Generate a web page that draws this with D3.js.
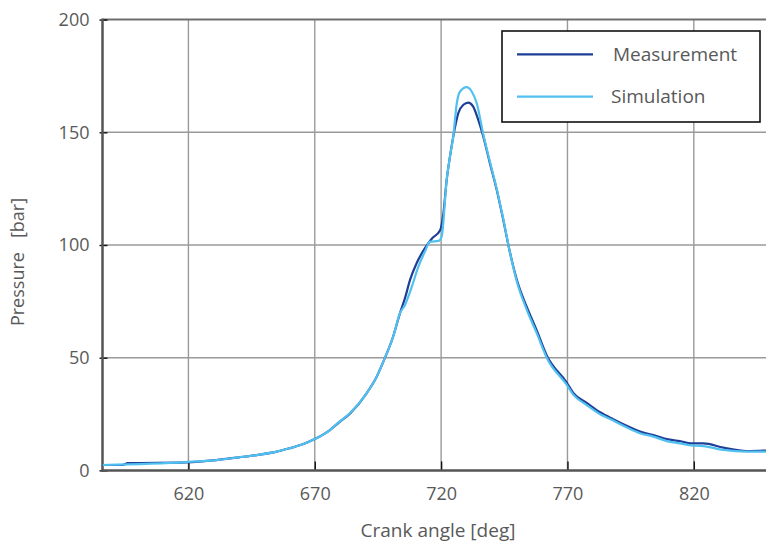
<!DOCTYPE html>
<html><head><meta charset="utf-8">
<script src="https://cdn.jsdelivr.net/npm/d3@7"></script>
<style>
html,body{margin:0;padding:0;background:#fff;}
svg{display:block;font-family:"Open Sans",sans-serif;}
</style></head>
<body>
<script>
const xTicks = [620, 670, 720, 770, 820];
const yTicks = [0, 50, 100, 150, 200];
const seriesNames = ["Measurement", "Simulation"];

const measAngle = [586,594,596,619,631,640,647,655,660,665.5,670,676,679.5,684,690.5,694.5,697.8,701,703.7,705.7,707.7,710.3,713.6,716.3,719.6,720.9,722.2,723.5,724.8,726.8,728.8,730.8,732.7,734.7,736.7,739.3,742,744.6,747.3,749.9,753.9,757.8,761.8,769.7,772.3,777.6,782.9,788.1,793.4,798.7,804,809.3,814.5,818.9,823.8,831.7,840.9,850];
const measPressure = [2.4,2.4,3.2,3.6,4.6,5.8,6.8,8.3,9.8,11.7,13.9,17.9,21.2,25.3,34.2,41.6,50,59.3,69.7,76.4,84.5,91.9,98.6,102.8,106.5,114,128.9,139.2,148.1,158.5,162.2,163.2,161.4,155.5,148.1,136.3,124.5,111.1,96.4,84.8,72.5,62.2,51,39,34.4,30,25.8,22.7,19.8,17.2,15.7,13.9,13,12,12,10.1,8.6,8.9];

const simAngle = [586,619,631,640,647,655,660,665.5,670,676,679.5,684,690.5,694.5,697.8,701,703.7,705.7,708.4,711,713.6,715.6,719,720.2,722.2,723.5,724.8,726.2,727.5,730.1,732.1,734.1,736.7,739.3,742,744.6,747.3,749.9,753.9,757.8,761.8,769.7,772.3,777.6,782.9,788.1,793.4,798.7,804,809.3,814.5,818.9,823.8,831.7,840.9,850];
const simPressure = [2.4,3.7,4.6,5.8,6.8,8.3,9.8,11.7,13.9,17.9,21.4,25.5,34.2,41.6,50,59.3,69.7,73.4,81.5,90.4,97.1,101.5,101.8,103.7,128.9,139.2,148.1,162.9,168.1,170,168.1,162.9,149,137,125,111.5,96.4,84,71.2,61,50,38,33.6,29,24.9,22.1,19.1,16.5,15,13,12,11.1,10.8,9.1,8.3,8.3];

const W = 766, H = 543;
const L = 102.5, T = 19.6, B = 470.4;
const x = d3.scaleLinear().domain([586, 850]).range([L, L + 264 * 2.527]);
const y = d3.scaleLinear().domain([0, 200]).range([B, T]);

const svg = d3.select("body").append("svg").attr("width", W).attr("height", H);

svg.append("clipPath").attr("id", "clip").append("rect")
  .attr("x", L).attr("y", T).attr("width", W - L).attr("height", B - T);

// grid
const grid = svg.append("g");
grid.selectAll(".vx").data(xTicks).enter().append("line")
  .attr("x1", d => x(d)).attr("x2", d => x(d)).attr("y1", T).attr("y2", B)
  .attr("stroke", "#9a9a9a").attr("stroke-width", 1.4);
grid.selectAll(".hy").data(yTicks.filter(d => d > 0 && d < 200)).enter().append("line")
  .attr("x1", L).attr("x2", W).attr("y1", d => y(d)).attr("y2", d => y(d))
  .attr("stroke", "#9a9a9a").attr("stroke-width", 1.4);
// top frame
svg.append("line").attr("x1", L).attr("x2", W).attr("y1", T).attr("y2", T)
  .attr("stroke", "#6e6e6e").attr("stroke-width", 2);

// axes
const xAxis = d3.axisBottom(x).tickValues(xTicks).tickSizeInner(-9).tickSizeOuter(0).tickPadding(17);
const gx = svg.append("g").attr("transform", `translate(0,${B})`).call(xAxis);
gx.select(".domain").remove();
gx.selectAll(".tick line").attr("stroke", "#111").attr("stroke-width", 1.4);
gx.selectAll(".tick text").attr("fill", "#595959").attr("font-size", 18).attr("font-family", "Open Sans");

const yAxis = d3.axisLeft(y).tickValues(yTicks).tickSizeInner(3).tickSizeOuter(0).tickPadding(10);
const gy = svg.append("g").attr("transform", `translate(${L},0)`).call(yAxis);
gy.select(".domain").remove();
gy.selectAll(".tick line").attr("stroke", "#111").attr("stroke-width", 1.4).attr("x2", 5).attr("x1", -3);
gy.selectAll(".tick text").attr("fill", "#595959").attr("font-size", 18).attr("font-family", "Open Sans").attr("x", -13);

// axis lines
svg.append("line").attr("x1", L).attr("x2", L).attr("y1", T - 1).attr("y2", B + 1)
  .attr("stroke", "#555").attr("stroke-width", 2.5);
svg.append("line").attr("x1", L - 1).attr("x2", W).attr("y1", B).attr("y2", B)
  .attr("stroke", "#555").attr("stroke-width", 2.5);

// lines
const colors = ["#1f3f97", "#4fc0ef"];
const meas = measAngle.map((a, i) => [a, measPressure[i]]);
const sim = simAngle.map((a, i) => [a, simPressure[i]]);
const line = d3.line().x(d => x(d[0])).y(d => y(d[1])).curve(d3.curveMonotoneX);
const plot = svg.append("g").attr("clip-path", "url(#clip)");
plot.append("path").datum(meas).attr("d", line).attr("fill", "none")
  .attr("stroke", colors[0]).attr("stroke-width", 2.2);
plot.append("path").datum(sim).attr("d", line).attr("fill", "none")
  .attr("stroke", colors[1]).attr("stroke-width", 2.2);

// legend
const lg = svg.append("g");
lg.append("rect").attr("x", 502).attr("y", 31).attr("width", 258).attr("height", 91)
  .attr("fill", "#fff").attr("stroke", "#111").attr("stroke-width", 1.6);
const ly = [54.3, 96.7];
const lx = [613, 611];
seriesNames.forEach((n, i) => {
  lg.append("line").attr("x1", 517).attr("x2", 593).attr("y1", ly[i]).attr("y2", ly[i])
    .attr("stroke", colors[i]).attr("stroke-width", 2.2);
  lg.append("text").attr("x", lx[i]).attr("y", ly[i]).attr("dy", "0.35em")
    .attr("fill", "#595959").attr("font-size", 19).text(n);
});

// axis titles
svg.append("text").attr("x", 438).attr("y", 530).attr("dy", "0.35em").attr("text-anchor", "middle")
  .attr("fill", "#595959").attr("font-size", 19).text("Crank angle [deg]");
svg.append("text").attr("transform", "translate(18,262) rotate(-90)").attr("dy", "0.35em")
  .attr("text-anchor", "middle").attr("fill", "#595959").attr("font-size", 18)
  .style("white-space", "pre").text("Pressure   [bar]");
</script>
</body></html>
